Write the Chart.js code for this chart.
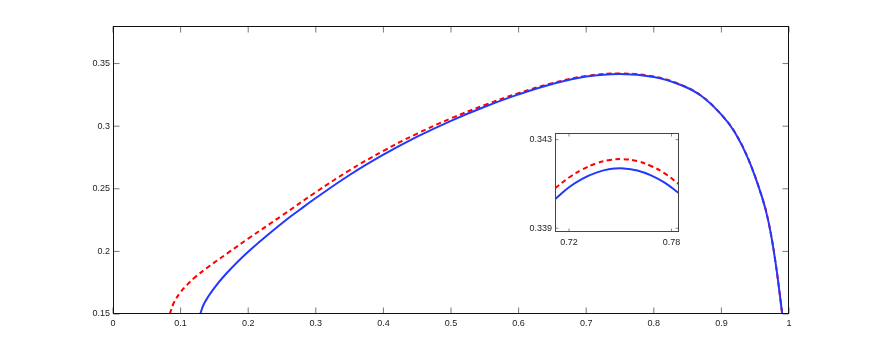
<!DOCTYPE html>
<html>
<head>
<meta charset="utf-8">
<script src="https://cdn.jsdelivr.net/npm/chart.js@4.4.1/dist/chart.umd.min.js"></script>
<style>
    body { margin: 0; background: #fff; }
    #wrap { position: relative; width: 872px; height: 354px; }
    #mainChart { position: absolute; left: 0; top: 0; }
    #insetChart { position: absolute; left: 505px; top: 122px; }
</style>
</head>
<body>
<div id="wrap">
    <canvas id="mainChart" width="872" height="354"></canvas>
    <canvas id="insetChart" width="185" height="135"></canvas>
</div>
<script>
// main plot
const blueX = [0.129, 0.135, 0.148, 0.168, 0.20, 0.25, 0.2766, 0.30, 0.35, 0.40, 0.45, 0.50, 0.55, 0.60, 0.65, 0.70, 0.75, 0.80, 0.84, 0.87, 0.90, 0.92, 0.94, 0.96, 0.97, 0.98, 0.99];
const blueY = [0.150, 0.1586, 0.1695, 0.1825, 0.1997, 0.2225, 0.2334, 0.2426, 0.261, 0.2772, 0.2916, 0.3043, 0.3155, 0.3254, 0.3337, 0.3396, 0.3417, 0.3393, 0.3329, 0.3243, 0.3092, 0.2950, 0.2735, 0.2435, 0.2228, 0.1915, 0.150];
const redX = [0.084, 0.09, 0.10, 0.11, 0.12, 0.1435, 0.17, 0.20, 0.25, 0.30, 0.35, 0.40, 0.45, 0.50, 0.55, 0.60, 0.65, 0.70, 0.75, 0.80, 0.84, 0.87, 0.90, 0.92, 0.94, 0.96, 0.97, 0.98, 0.99];
const redY = [0.150, 0.159, 0.1675, 0.1735, 0.1788, 0.1886, 0.1988, 0.2102, 0.2286, 0.2473, 0.2648, 0.2803, 0.2941, 0.3062, 0.3169, 0.3264, 0.3344, 0.3401, 0.3421, 0.3396, 0.3331, 0.3244, 0.3092, 0.2950, 0.2735, 0.2435, 0.2228, 0.1915, 0.150];
const xTicks = [0, 0.1, 0.2, 0.3, 0.4, 0.5, 0.6, 0.7, 0.8, 0.9, 1];
const xTickLabels = ["0", "0.1", "0.2", "0.3", "0.4", "0.5", "0.6", "0.7", "0.8", "0.9", "1"];
const yTicks = [0.15, 0.2, 0.25, 0.3, 0.35];
const yTickLabels = ["0.15", "0.2", "0.25", "0.3", "0.35"];

// zoomed inset around the peak
const insetX = [0.7118, 0.72, 0.728, 0.736, 0.744, 0.752, 0.760, 0.768, 0.776, 0.7844];
const insetBlueY = [0.34031, 0.34085, 0.34124, 0.34151, 0.34167, 0.34170, 0.34161, 0.34139, 0.34106, 0.34058];
const insetRedY = [0.34080, 0.34129, 0.34166, 0.34193, 0.34208, 0.34212, 0.34203, 0.34181, 0.34148, 0.34098];
const insetXTicks = [0.72, 0.78];
const insetXTickLabels = ["0.72", "0.78"];
const insetYTicks = [0.339, 0.343];
const insetYTickLabels = ["0.339", "0.343"];

const BLUE = "#2338ff";
const RED = "#ff0000";
const FONT = { family: "'Liberation Sans', Arial, sans-serif", size: 9 };

function pts(xs, ys) {
    return xs.map((x, i) => ({ x: x, y: ys[i] }));
}

// white plot area, black box and inward tick marks (matlab look)
const boxPlugin = {
    id: "box",
    beforeDraw(chart) {
        const a = chart.chartArea, c = chart.ctx;
        c.save();
        c.fillStyle = "#fff";
        c.fillRect(a.left, a.top, a.right - a.left, a.bottom - a.top);
        c.restore();
    },
    afterDraw(chart, args, opts) {
        const a = chart.chartArea, c = chart.ctx;
        const xs = chart.scales.x, ys = chart.scales.y;
        const L = Math.round(a.left) + 0.5, R = Math.round(a.right) - 0.5;
        const T = Math.round(a.top) + 0.5, B = Math.round(a.bottom) - 0.5;
        c.save();
        c.lineWidth = 1;
        c.strokeStyle = opts.tickColor;
        c.beginPath();
        xs.ticks.forEach(t => {
            const p = xs.getPixelForValue(t.value);
            c.moveTo(p, B); c.lineTo(p, B - opts.len);
            c.moveTo(p, T); c.lineTo(p, T + opts.len);
        });
        ys.ticks.forEach(t => {
            const p = ys.getPixelForValue(t.value);
            c.moveTo(L, p); c.lineTo(L + opts.len, p);
            c.moveTo(R, p); c.lineTo(R - opts.len, p);
        });
        c.stroke();
        c.strokeStyle = opts.color;
        c.strokeRect(L, T, R - L, B - T);
        c.restore();
    }
};

function makeScales(cfg) {
    return {
        x: {
            type: "linear", position: "bottom", min: cfg.xMin, max: cfg.xMax,
            grid: { display: false, drawTicks: false }, border: { display: false },
            afterBuildTicks: s => { s.ticks = cfg.xTicks.map(v => ({ value: v })); },
            afterFit: s => { s.height = cfg.bottom; },
            ticks: { font: FONT, color: "#222", padding: cfg.xPad, maxRotation: 0,
                     callback: (v, i) => cfg.xLabels[i] }
        },
        y: {
            type: "linear", position: "left", min: cfg.yMin, max: cfg.yMax,
            grid: { display: false, drawTicks: false }, border: { display: false },
            afterBuildTicks: s => { s.ticks = cfg.yTicks.map(v => ({ value: v })); },
            afterFit: s => { s.width = cfg.left; },
            ticks: { font: FONT, color: "#222", padding: cfg.yPad,
                     callback: (v, i) => cfg.yLabels[i] }
        },
        x2: {
            type: "linear", position: "top",
            grid: { display: false, drawTicks: false }, border: { display: false },
            ticks: { display: false },
            afterFit: s => { s.height = cfg.top; }
        },
        y2: {
            type: "linear", position: "right",
            grid: { display: false, drawTicks: false }, border: { display: false },
            ticks: { display: false },
            afterFit: s => { s.width = cfg.right; }
        }
    };
}

function lineSet(data, color, dashed) {
    return {
        data: data, xAxisID: "x", yAxisID: "y",
        borderColor: color, borderWidth: 2, borderDash: dashed ? [5, 3.5] : [],
        pointRadius: 0, fill: false, tension: 0.4
    };
}

new Chart(document.getElementById("mainChart").getContext("2d"), {
    type: "line",
    data: {
        datasets: [
            lineSet(pts(blueX, blueY), BLUE, false),
            lineSet(pts(redX, redY), RED, true)
        ]
    },
    options: {
        responsive: false, animation: false, devicePixelRatio: 1,
        layout: { padding: 0 },
        plugins: {
            legend: { display: false }, tooltip: { enabled: false },
            box: { color: "#111", tickColor: "#777", len: 6 }
        },
        scales: makeScales({
            xMin: 0, xMax: 1, yMin: 0.15, yMax: 0.38,
            xTicks: xTicks, xLabels: xTickLabels, yTicks: yTicks, yLabels: yTickLabels,
            left: 113, right: 83, top: 26, bottom: 40, xPad: 4, yPad: 3
        })
    },
    plugins: [boxPlugin]
});

new Chart(document.getElementById("insetChart").getContext("2d"), {
    type: "line",
    data: {
        datasets: [
            lineSet(pts(insetX, insetBlueY), BLUE, false),
            lineSet(pts(insetX, insetRedY), RED, true)
        ]
    },
    options: {
        responsive: false, animation: false, devicePixelRatio: 1,
        layout: { padding: 0 },
        plugins: {
            legend: { display: false }, tooltip: { enabled: false },
            box: { color: "#444", tickColor: "#888", len: 3 }
        },
        scales: makeScales({
            xMin: 0.7118, xMax: 0.7844, yMin: 0.33883, yMax: 0.3433,
            xTicks: insetXTicks, xLabels: insetXTickLabels, yTicks: insetYTicks, yLabels: insetYTickLabels,
            left: 50, right: 11, top: 11, bottom: 25, xPad: 5, yPad: 3
        })
    },
    plugins: [boxPlugin]
});
</script>
</body>
</html>
